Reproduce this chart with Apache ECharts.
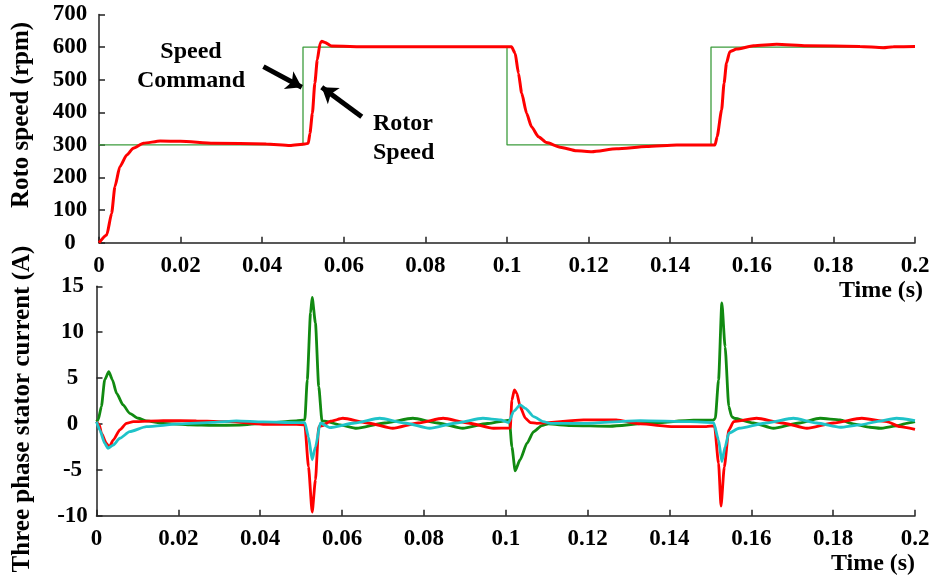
<!DOCTYPE html>
<html>
<head>
<meta charset="utf-8">
<script src="https://cdn.jsdelivr.net/npm/echarts@6/dist/echarts.min.js"></script>
<style>
  html, body { margin: 0; padding: 0; background: #ffffff; }
  #chart { width: 937px; height: 580px; }
</style>
</head>
<body>
<div id="chart"></div>
<script>
// ---- Data ----
// Top panel: speed command (step) and rotor speed (rpm) vs time (s)
const cmdT = [0, 0.05, 0.1, 0.15, 0.2];
const cmdV = [300, 600, 300, 600, 600];

const speedT = [0, 0.0019, 0.0031, 0.0039, 0.0051, 0.0068, 0.0084, 0.0109, 0.015, 0.02, 0.028, 0.041, 0.0468, 0.0505, 0.0513, 0.0517, 0.0523, 0.0529, 0.0535, 0.0542, 0.0546, 0.0554, 0.057, 0.066, 0.08, 0.1011, 0.102, 0.1028, 0.1036, 0.1048, 0.106, 0.1077, 0.1097, 0.113, 0.1171, 0.1208, 0.1269, 0.1342, 0.1416, 0.151, 0.1515, 0.1526, 0.1532, 0.1538, 0.1546, 0.1563, 0.1604, 0.1661, 0.1734, 0.1865, 0.1922, 0.1947, 0.2];
const speedV = [0, 24, 90, 172, 233, 269, 290, 305, 312, 311, 305, 303, 298, 303, 305, 335, 397, 489, 561, 612, 618, 614, 603, 601, 601, 601, 581, 520, 459, 397, 356, 325, 307, 293, 282, 279, 288, 295, 300, 300, 325, 407, 489, 551, 586, 594, 604, 609, 604, 602, 598, 601, 602];

// Bottom panel: three phase stator currents (A)
const greenT = [0, 0.0004, 0.0012, 0.002, 0.003, 0.0039, 0.0049, 0.0065, 0.0081, 0.0102, 0.0122, 0.0163, 0.0228, 0.0285, 0.035, 0.0407, 0.0488, 0.0509, 0.0515, 0.0523, 0.0527, 0.0535, 0.0543, 0.0551, 0.0558, 0.0595, 0.0635, 0.0704, 0.0773, 0.0834, 0.0895, 0.0955, 0.0987, 0.1009, 0.1015, 0.1023, 0.1035, 0.1052, 0.1068, 0.1088, 0.1104, 0.1158, 0.1255, 0.1345, 0.1459, 0.1508, 0.1512, 0.152, 0.1528, 0.1536, 0.1545, 0.1552, 0.1558, 0.1605, 0.1654, 0.1717, 0.1768, 0.1817, 0.1849, 0.189, 0.1915, 0.1955, 0.1988, 0.2];
const greenV = [0.25, 0.44, 1.9, 4.8, 5.7, 4.8, 3.35, 2.07, 1.16, 0.62, 0.33, 0.07, -0.1, -0.16, -0.13, 0.07, 0.33, 0.44, 4.8, 12.1, 13.8, 11, 4.1, 0.3, 0.3, -0.1, -0.47, 0.1, 0.62, 0.1, -0.47, 0.05, 0.25, 0.4, -2.5, -5.1, -3.9, -2.1, -0.84, -0.18, 0, -0.18, -0.25, 0.07, 0.4, 0.44, 0.6, 4.8, 13.2, 8.4, 1.9, 0.8, 0.62, 0.1, -0.47, 0.1, 0.62, 0.44, 0, -0.36, -0.47, -0.2, 0.15, 0.25];

const redT = [0, 0.0007, 0.0012, 0.0024, 0.0031, 0.0041, 0.0057, 0.0073, 0.009, 0.0163, 0.0244, 0.0326, 0.0407, 0.0488, 0.0509, 0.0518, 0.0527, 0.0535, 0.0543, 0.0551, 0.0572, 0.0602, 0.0663, 0.0724, 0.0786, 0.0847, 0.0908, 0.097, 0.1011, 0.1015, 0.1021, 0.1027, 0.1035, 0.1048, 0.106, 0.1076, 0.119, 0.127, 0.1329, 0.141, 0.149, 0.151, 0.152, 0.1526, 0.1534, 0.1545, 0.1557, 0.1613, 0.1676, 0.1736, 0.1801, 0.187, 0.1931, 0.1963, 0.2];
const redV = [0.25, -0.1, -1.0, -2.1, -2.55, -1.75, -0.65, 0.07, 0.25, 0.36, 0.33, 0.25, -0.04, -0.04, -0.1, -4.66, -9.6, -6.1, -0.3, -0.2, 0.3, 0.62, 0.1, -0.47, 0.1, 0.62, 0.1, -0.47, -0.45, 2.6, 3.7, 3.35, 1.9, 0.62, 0.15, 0.07, 0.44, 0.44, 0, -0.29, -0.29, -0.2, -4.3, -8.95, -4.7, -0.66, 0.25, 0.62, 0.1, -0.47, 0.1, 0.62, 0.25, -0.29, -0.58];

const cyanT = [0, 0.0008, 0.002, 0.0028, 0.0041, 0.0057, 0.0081, 0.0122, 0.0204, 0.0285, 0.0342, 0.0407, 0.0488, 0.0509, 0.0518, 0.0527, 0.0535, 0.0547, 0.057, 0.0631, 0.0692, 0.0753, 0.0814, 0.0879, 0.0944, 0.0987, 0.1007, 0.1019, 0.1035, 0.1048, 0.1068, 0.1092, 0.1109, 0.12, 0.1329, 0.145, 0.1508, 0.152, 0.1528, 0.1536, 0.1545, 0.157, 0.1636, 0.1703, 0.176, 0.1817, 0.1866, 0.1906, 0.1955, 0.2];
const cyanV = [0.25, -0.65, -2.1, -2.65, -2.3, -1.56, -0.84, -0.29, 0, 0.18, 0.33, 0.22, 0.15, 0.15, -1.4, -3.9, -2.5, 0.1, -0.4, 0.1, 0.62, 0.1, -0.47, 0.1, 0.62, 0.45, 0.15, 1.35, 2.07, 1.7, 0.8, 0.25, 0.07, 0.07, 0.36, 0.25, 0.15, -1.75, -4.1, -2.5, -1.0, -0.47, 0.1, 0.62, 0.1, -0.36, -0.1, 0.25, 0.62, 0.36];

// Axis ticks
const xMin = 0, xMax = 0.2, xStep = 0.02;
const speedMin = 0, speedMax = 700, speedStep = 100;
const curMin = -10, curMax = 15, curStep = 5;

// Annotation arrows (data coordinates: [time, rpm])
const cmdArrow = [[0.0403, 540], [0.0497, 477]];
const rotorArrow = [[0.0644, 386], [0.0546, 477]];

// ---- Build chart ----
const zip = (a, b) => a.map((v, i) => [v, b[i]]);
const FONT = '"Liberation Serif", "Times New Roman", serif';
const axisLine = { show: true, onZero: false, lineStyle: { color: '#222', width: 1.5 } };
const axisTick = { show: true, inside: true, length: 6, lineStyle: { color: '#222', width: 1.5 } };
const xLabel = { fontFamily: FONT, fontWeight: 'bold', fontSize: 23, color: '#000', margin: 12 };

const chart = echarts.init(document.getElementById('chart'), null, { renderer: 'canvas' });
chart.setOption({
  animation: false,
  backgroundColor: '#ffffff',
  grid: [
    { left: 99, right: 22, top: 14.5, height: 228.2 },
    { left: 96.5, right: 22, top: 286.3, height: 229.4 }
  ],
  xAxis: [
    { type: 'value', gridIndex: 0, min: xMin, max: xMax, interval: xStep,
      axisLine, axisTick, splitLine: { show: false }, axisLabel: xLabel },
    { type: 'value', gridIndex: 1, min: xMin, max: xMax, interval: xStep,
      axisLine, axisTick, splitLine: { show: false }, axisLabel: xLabel }
  ],
  yAxis: [
    { type: 'value', gridIndex: 0, min: speedMin, max: speedMax, interval: speedStep,
      axisLine, axisTick, splitLine: { show: false },
      axisLabel: { fontFamily: FONT, fontWeight: 'bold', fontSize: 23, color: '#000', align: 'center', margin: 29 } },
    { type: 'value', gridIndex: 1, min: curMin, max: curMax, interval: curStep,
      axisLine, axisTick, splitLine: { show: false },
      axisLabel: { fontFamily: FONT, fontWeight: 'bold', fontSize: 23, color: '#000', align: 'center', margin: 24 } }
  ],
  series: [
    { name: 'Speed Command', type: 'line', xAxisIndex: 0, yAxisIndex: 0, step: 'end',
      data: zip(cmdT, cmdV), showSymbol: false, lineStyle: { color: '#3c9c3c', width: 1.3 } },
    { name: 'Rotor Speed', type: 'line', xAxisIndex: 0, yAxisIndex: 0,
      data: zip(speedT, speedV), showSymbol: false, smooth: 0.2, smoothMonotone: 'x',
      lineStyle: { color: '#ff0000', width: 3 },
      markLine: {
        silent: true, animation: false, symbol: ['none', 'arrow'], symbolSize: 15,
        label: { show: false },
        lineStyle: { color: '#000', width: 5, type: 'solid' },
        data: [
          [{ coord: cmdArrow[0] }, { coord: cmdArrow[1] }],
          [{ coord: rotorArrow[0] }, { coord: rotorArrow[1] }]
        ]
      } },
    { name: 'ib', type: 'line', xAxisIndex: 1, yAxisIndex: 1,
      data: zip(greenT, greenV), showSymbol: false, smooth: 0.2, smoothMonotone: 'x',
      lineStyle: { color: '#118a11', width: 2.8 } },
    { name: 'ia', type: 'line', xAxisIndex: 1, yAxisIndex: 1,
      data: zip(redT, redV), showSymbol: false, smooth: 0.2, smoothMonotone: 'x',
      lineStyle: { color: '#ff0000', width: 2.8 } },
    { name: 'ic', type: 'line', xAxisIndex: 1, yAxisIndex: 1,
      data: zip(cyanT, cyanV), showSymbol: false, smooth: 0.2, smoothMonotone: 'x',
      lineStyle: { color: '#1fc3c9', width: 2.8 } }
  ],
  graphic: [
    { type: 'text', x: 22, y: 115, rotation: Math.PI / 2,
      style: { text: 'Roto speed (rpm)', font: 'bold 25px ' + FONT, fill: '#000', textAlign: 'center', textVerticalAlign: 'middle' } },
    { type: 'text', x: 22.5, y: 409, rotation: Math.PI / 2,
      style: { text: 'Three phase stator current (A)', font: 'bold 25px ' + FONT, fill: '#000', textAlign: 'center', textVerticalAlign: 'middle' } },
    { type: 'text', x: 881, y: 291,
      style: { text: 'Time (s)', font: 'bold 24px ' + FONT, fill: '#000', textAlign: 'center', textVerticalAlign: 'middle' } },
    { type: 'text', x: 873, y: 564,
      style: { text: 'Time (s)', font: 'bold 24px ' + FONT, fill: '#000', textAlign: 'center', textVerticalAlign: 'middle' } },
    { type: 'text', x: 191, y: 37,
      style: { text: 'Speed\nCommand', font: 'bold 24px ' + FONT, lineHeight: 29, fill: '#000', textAlign: 'center', textVerticalAlign: 'top' } },
    { type: 'text', x: 373, y: 109.5,
      style: { text: 'Rotor\nSpeed', font: 'bold 24px ' + FONT, lineHeight: 29, fill: '#000', textAlign: 'left', textVerticalAlign: 'top' } }
  ]
});
</script>
</body>
</html>
